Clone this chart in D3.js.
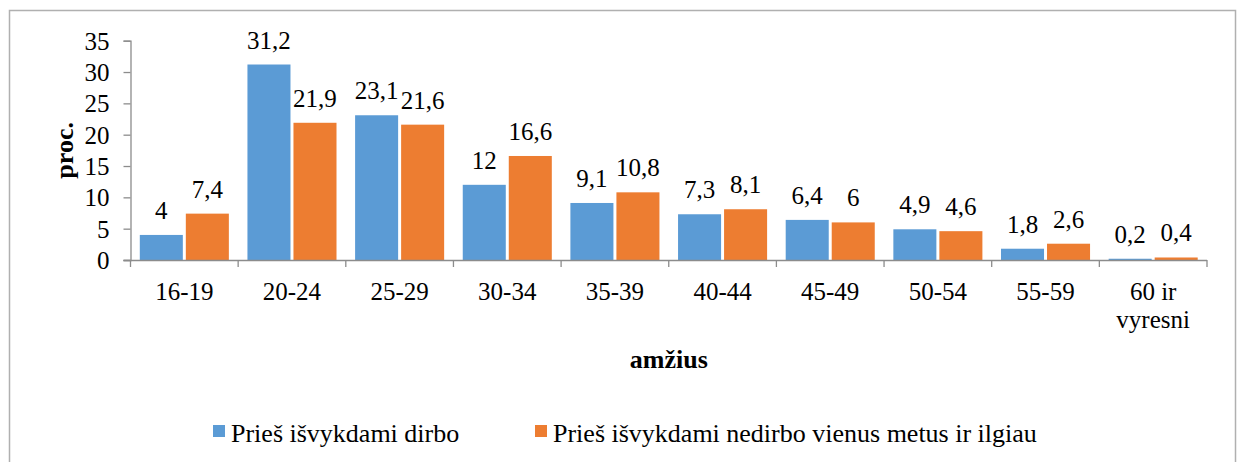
<!DOCTYPE html>
<html>
<head>
<meta charset="utf-8">
<script src="https://cdn.jsdelivr.net/npm/d3@7"></script>
<style>
  body { margin: 0; background: #fff; }
</style>
</head>
<body>
<script>
// Chart data
var categories = ["16-19", "20-24", "25-29", "30-34", "35-39", "40-44", "45-49", "50-54", "55-59", "60 ir vyresni"];
var seriesNames = ["Prieš išvykdami dirbo", "Prieš išvykdami nedirbo vienus metus ir ilgiau"];
var worked = [4, 31.2, 23.1, 12, 9.1, 7.3, 6.4, 4.9, 1.8, 0.2];
var notWorked = [7.4, 21.9, 21.6, 16.6, 10.8, 8.1, 6, 4.6, 2.6, 0.4];
var yTicks = [0, 5, 10, 15, 20, 25, 30, 35];
var colors = ["#5B9BD5", "#ED7D31"];

var w = 1237, h = 462;
var fontName = "Liberation Serif";

var svg = d3.select("body").append("svg")
    .attr("width", w)
    .attr("height", h)
    .attr("font-family", fontName);

// outer frame (bottom edge falls outside the picture)
svg.append("rect")
    .attr("x", 9.5).attr("y", 10.5)
    .attr("width", 1226).attr("height", 470)
    .attr("fill", "none")
    .attr("stroke", "#b0b0b0")
    .attr("stroke-width", 1.5);

var plotL = 130.5, plotR = 1207, plotT = 40.7, plotB = 260;

var x = d3.scaleBand().domain(categories).range([plotL, plotR]).padding(0);
var xs = d3.scaleBand().domain([0, 1])
    .range([9.3, x.bandwidth() - 9.3])
    .paddingInner(0.065);
var y = d3.scaleLinear().domain([0, 35]).range([plotB, plotT]);

var data = categories.map(function(c, i) {
    return { cat: c, vals: [worked[i], notWorked[i]] };
});

// bars
var groups = svg.selectAll(".grp")
    .data(data)
    .enter().append("g")
    .attr("class", "grp")
    .attr("transform", function(d) { return "translate(" + x(d.cat) + ",0)"; });

groups.selectAll("rect")
    .data(function(d) { return d.vals; })
    .enter().append("rect")
    .attr("x", function(d, i) { return xs(i); })
    .attr("width", xs.bandwidth())
    .attr("y", function(d) { return y(d); })
    .attr("height", function(d) { return plotB - y(d); })
    .attr("fill", function(d, i) { return colors[i]; });

// value labels
groups.selectAll(".val")
    .data(function(d) { return d.vals; })
    .enter().append("text")
    .attr("class", "val")
    .attr("text-anchor", "middle")
    .attr("x", function(d, i) { return xs(i) + xs.bandwidth() / 2; })
    .attr("y", function(d) { return y(d) - 16; })
    .style("font-size", "25px")
    .text(function(d) { return String(d).replace(".", ","); });

// y axis
var yAxis = svg.append("g")
    .attr("transform", "translate(" + plotL + ",0)")
    .call(d3.axisLeft(y).tickValues(yTicks).tickSize(7).tickPadding(14));
yAxis.attr("font-family", fontName).attr("font-size", 25);
yAxis.selectAll("text").attr("fill", "#000").attr("dy", "0.34em");

// x axis
var xAxis = svg.append("g")
    .attr("transform", "translate(0," + plotB + ")")
    .call(d3.axisBottom(x).tickSize(0).tickFormat(""));
xAxis.select(".domain").attr("d", "M" + (plotL - 7) + ",0.5H" + plotR);
xAxis.selectAll(".tick").remove();

// boundary ticks
var bounds = categories.map(function(c) { return x(c); }).concat([plotR]);
xAxis.selectAll(".bt")
    .data(bounds)
    .enter().append("line")
    .attr("class", "bt")
    .attr("x1", function(d) { return d; }).attr("x2", function(d) { return d; })
    .attr("y1", 0).attr("y2", 7);

svg.selectAll(".domain, .tick line, .bt")
    .attr("stroke", "#8c8c8c")
    .attr("stroke-width", 1.3);

// category labels (wrapped)
var catLabels = svg.selectAll(".cat")
    .data(categories)
    .enter().append("text")
    .attr("class", "cat")
    .attr("text-anchor", "middle")
    .attr("y", 300)
    .style("font-size", "25px");
catLabels.each(function(d) {
    var t = d3.select(this);
    var parts = d === "60 ir vyresni" ? ["60 ir", "vyresni"] : [d];
    parts.forEach(function(p, i) {
        t.append("tspan")
            .attr("x", x(d) + x.bandwidth() / 2)
            .attr("dy", i === 0 ? 0 : 28)
            .text(p);
    });
});

// axis titles
svg.append("text")
    .attr("text-anchor", "middle")
    .attr("transform", "translate(73," + ((plotT + plotB) / 2) + ") rotate(-90)")
    .style("font-size", "26px")
    .style("font-weight", "bold")
    .text("proc.");

svg.append("text")
    .attr("text-anchor", "middle")
    .attr("x", (plotL + plotR) / 2)
    .attr("y", 368)
    .style("font-size", "26px")
    .style("font-weight", "bold")
    .text("amžius");

// legend
var legend = svg.append("g");
var legX = [213, 535];
seriesNames.forEach(function(name, i) {
    legend.append("rect")
        .attr("x", legX[i]).attr("y", 425)
        .attr("width", 12).attr("height", 12)
        .attr("fill", colors[i]);
    legend.append("text")
        .attr("x", legX[i] + 18)
        .attr("y", 442)
        .style("font-size", "26px")
        .text(name);
});

svg.selectAll("text").style("font-family", fontName);
</script>
</body>
</html>
